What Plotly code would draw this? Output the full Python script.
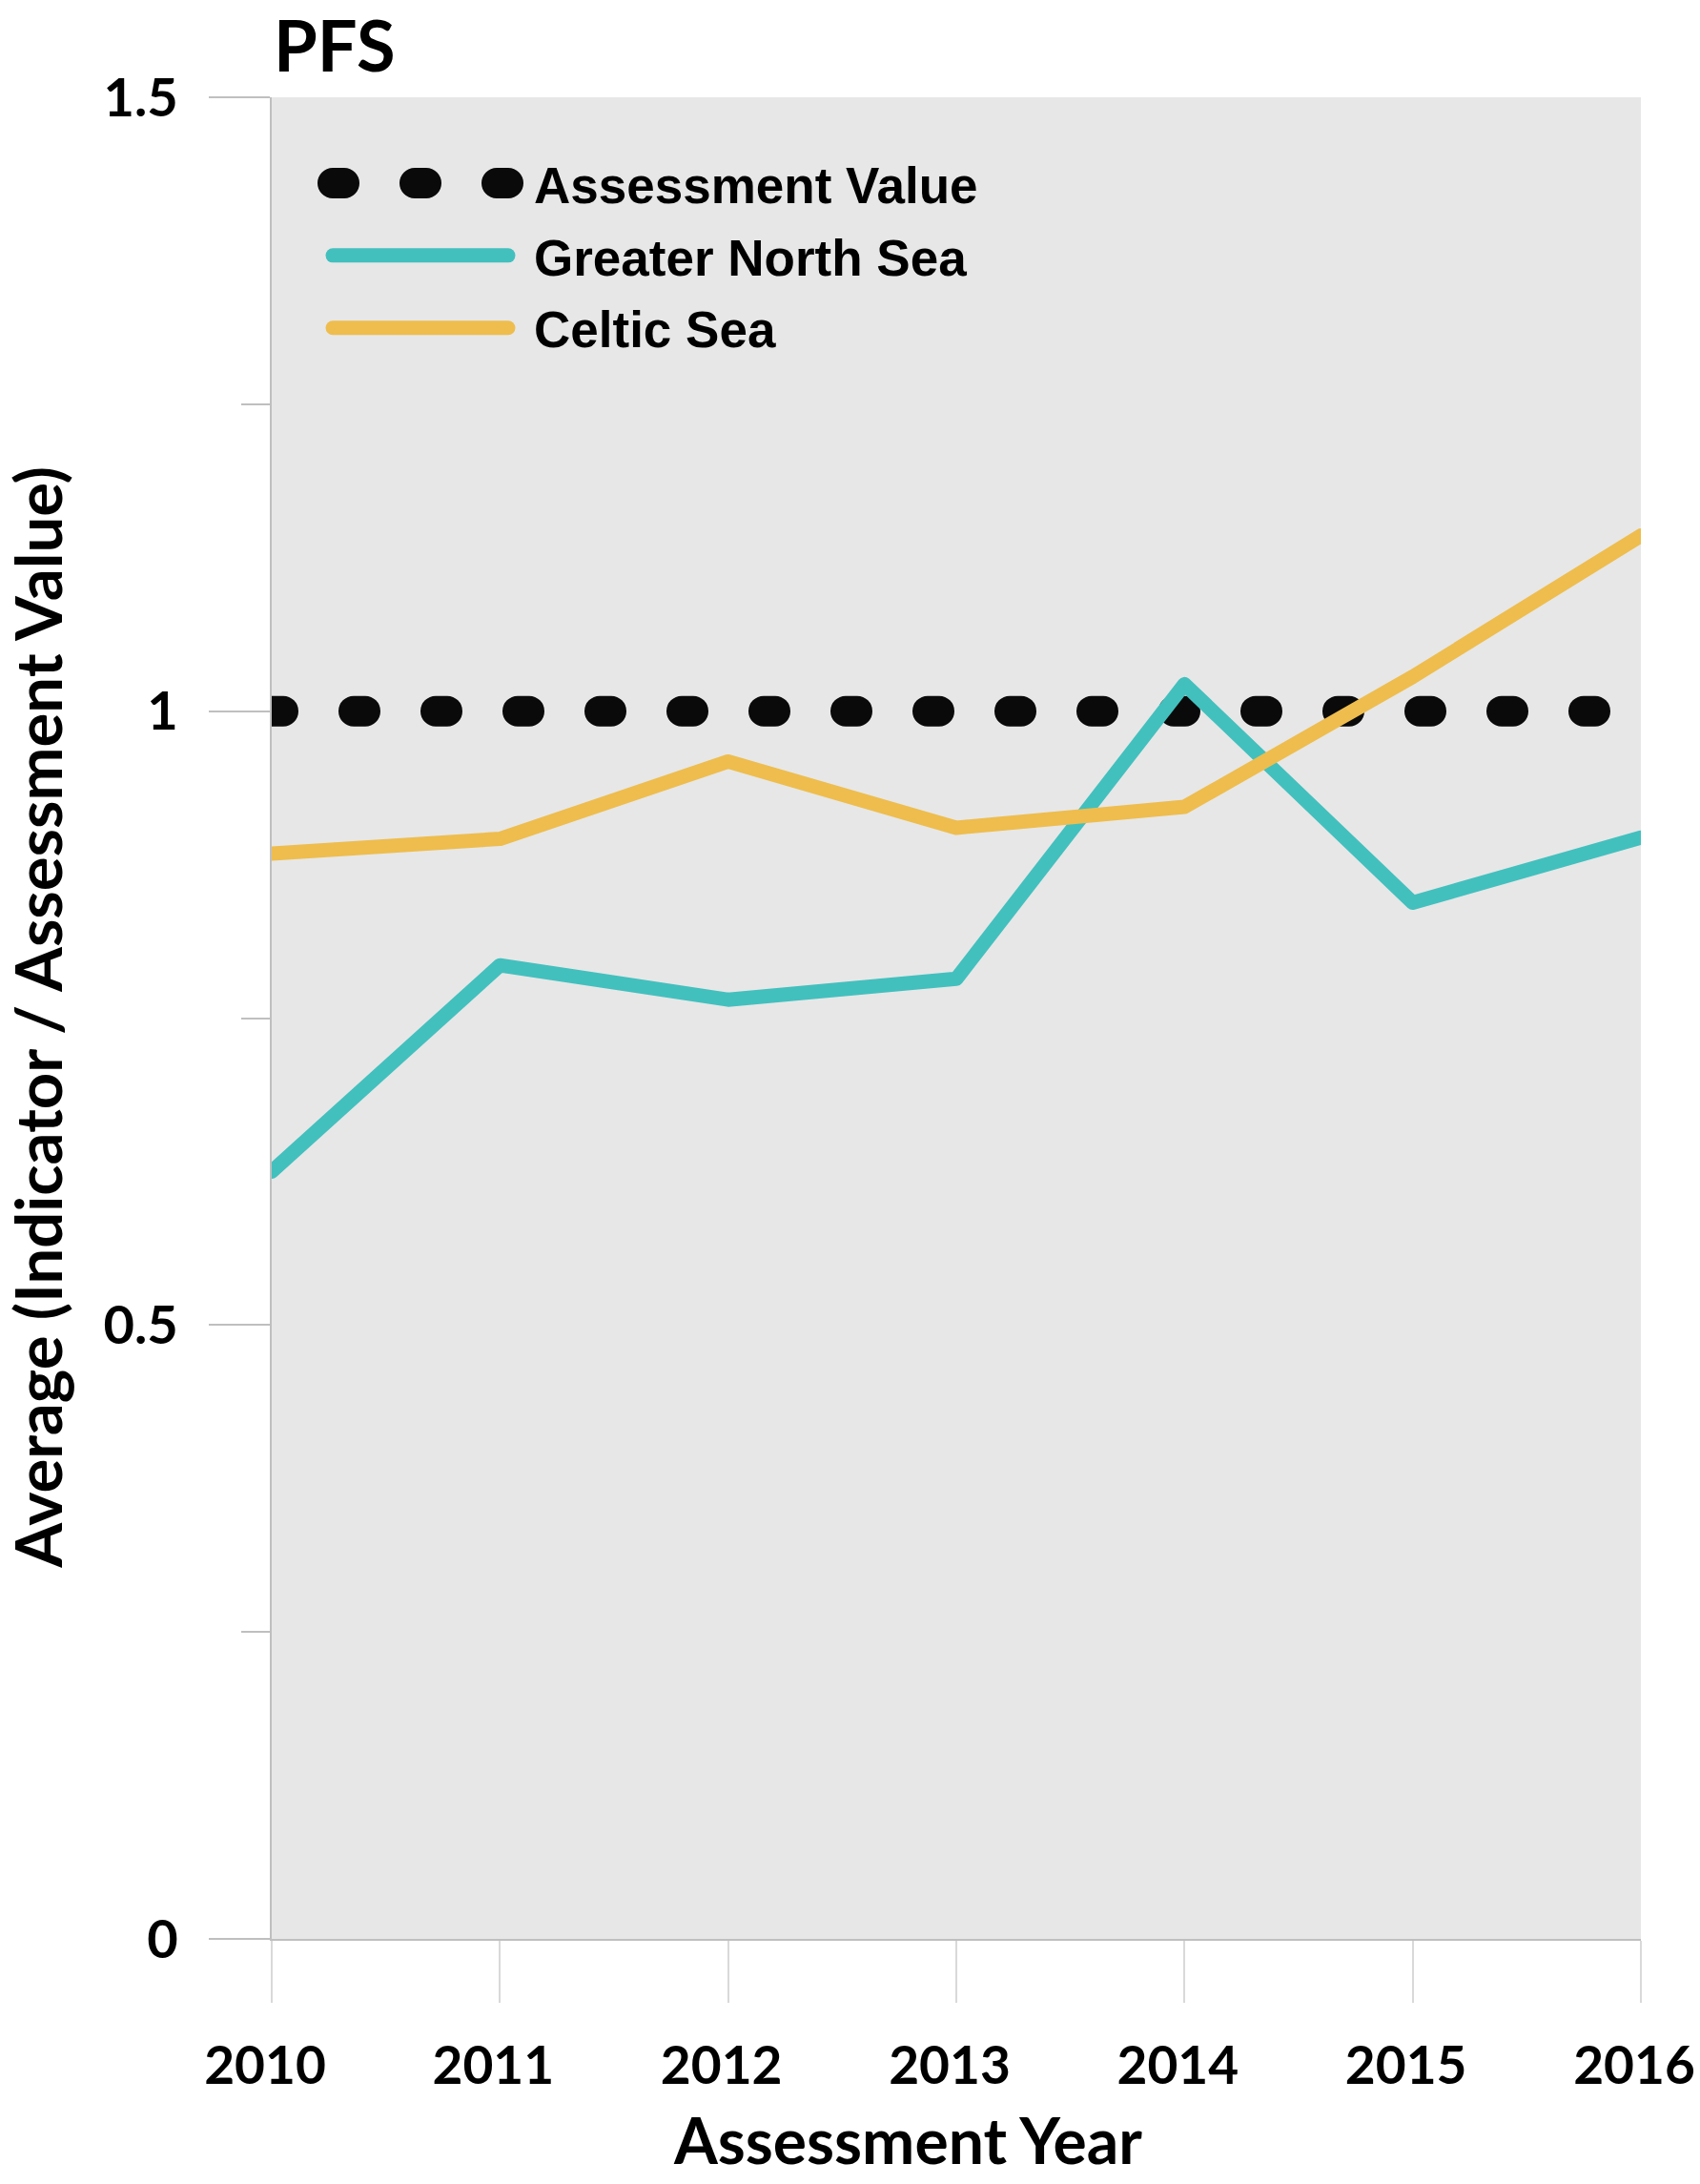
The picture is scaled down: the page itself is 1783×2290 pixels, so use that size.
import plotly.graph_objects as go

years = [2010, 2011, 2012, 2013, 2014, 2015, 2016]
assessment_value = [1.0, 1.0, 1.0, 1.0, 1.0, 1.0, 1.0]
greater_north_sea = [0.625, 0.793, 0.765, 0.782, 1.022, 0.844, 0.897]
celtic_sea = [0.884, 0.896, 0.959, 0.905, 0.922, 1.028, 1.143]

y_tickvals = [0, 0.5, 1, 1.5]
y_ticktext = ["0", "0.5", "1", "1.5"]

TEAL = "#42C0BE"
GOLD = "#EEBD4D"
W, H = 1783, 2290
ML, MR, MT, MB = 285, 62, 102, 257
pw = W - ML - MR
ph = H - MT - MB

fig = go.Figure()
fig.add_trace(go.Scatter(x=years, y=assessment_value, mode="lines", name="Assessment Value",
                         legendgroup="a", line=dict(color="#0a0a0a", width=32, dash="12px,74px"),
                         cliponaxis=False))
fig.add_trace(go.Scatter(x=years, y=greater_north_sea, mode="lines", name="Greater North Sea",
                         legendgroup="b", line=dict(color=TEAL, width=15), cliponaxis=False))
fig.add_trace(go.Scatter(x=years, y=celtic_sea, mode="lines", name="Celtic Sea",
                         legendgroup="c", line=dict(color=GOLD, width=15), cliponaxis=False))

xtickfont = dict(family="Lato", size=55, color="#000000", weight="bold")
ytickfont = dict(family="Lato", size=56, color="#000000", weight="bold")

fig.update_layout(
    width=W, height=H,
    margin=dict(l=ML, r=MR, t=MT, b=MB, autoexpand=False),
    paper_bgcolor="white", plot_bgcolor="#E7E7E7",
    showlegend=True,
    legend=dict(x=(344 - ML) / pw, y=1 - (151 - MT) / ph, xanchor="left", yanchor="top",
                bgcolor="rgba(0,0,0,0)", font=dict(family="Liberation Sans", size=53, color="#000", weight="bold"),
                itemwidth=206, traceorder="grouped", tracegroupgap=4),
    title=dict(text="PFS", x=287 / W, xanchor="left", xref="container", y=1 - 49 / H, yanchor="middle",
               yref="container", font=dict(family="Lato", size=74, color="#000", weight="bold")),
    xaxis=dict(range=[2010, 2016], tickvals=years, ticktext=[str(y) for y in years],
               showgrid=False, zeroline=False, showline=True, linecolor="#bfbfbf", linewidth=2,
               ticks="outside", ticklen=65, tickwidth=2, tickcolor="#d9d9d9", automargin=False,
               tickfont=xtickfont, ticklabelstandoff=19, ticklabelshift=-7, ticklabeloverflow="allow"),
    yaxis=dict(range=[0, 1.5], tickvals=y_tickvals, ticktext=y_ticktext,
               showgrid=False, zeroline=False, showline=True, linecolor="#bfbfbf", linewidth=2,
               ticks="outside", ticklen=64, tickwidth=2, tickcolor="#bfbfbf", automargin=False,
               tickfont=ytickfont, ticklabelstandoff=21, ticklabeloverflow="allow",
               minor=dict(dtick=0.25, ticklen=30, tickwidth=2, tickcolor="#bfbfbf", ticks="outside", showgrid=False)),
    annotations=[
        dict(text="Assessment Year", xref="paper", yref="paper", x=(952 - ML) / pw, y=-(2243 - 2033) / ph,
             xanchor="center", yanchor="middle", showarrow=False,
             font=dict(family="Lato", size=66, color="#000", weight="bold")),
        dict(text="Average (Indicator / Assessment Value)", xref="paper", yref="paper",
             x=(38 - ML) / pw, y=0.5, xanchor="center", yanchor="middle", textangle=-90, showarrow=False,
             font=dict(family="Lato", size=67, color="#000", weight="bold")),
    ],
)

post_js = """
var s = document.createElement('style');
s.innerHTML = 'html,body{margin:0 !important;overflow:hidden !important;} .js-line{stroke-linecap:round !important;stroke-linejoin:round !important;}';
document.head.appendChild(s);
var gd = document.getElementById('{plot_id}');
function fixLegend(){
  gd.querySelectorAll('.legend .scrollbox').forEach(function(e){ e.removeAttribute('clip-path'); });
  gd.querySelectorAll('.legend .traces').forEach(function(t){
    var d = t.__data__;
    var tr = d && d[0] && d[0].trace;
    t.querySelectorAll('.legendlines path').forEach(function(p){
      if(tr && tr.line && tr.line.width){ p.style.strokeWidth = tr.line.width + 'px'; }
      if(!p.getAttribute('data-short')){
        var dd = p.getAttribute('d') || '';
        var m = dd.match(/^(M[^h]*)h([0-9.]+)$/);
        if(m){ p.setAttribute('d', m[1] + 'h' + (parseFloat(m[2]) - 22)); p.setAttribute('data-short', '1'); }
      }
    });
  });
}
fixLegend();
gd.on('plotly_afterplot', fixLegend);
"""
fig.write_html("out.html", post_script=post_js, config={"displayModeBar": False})
